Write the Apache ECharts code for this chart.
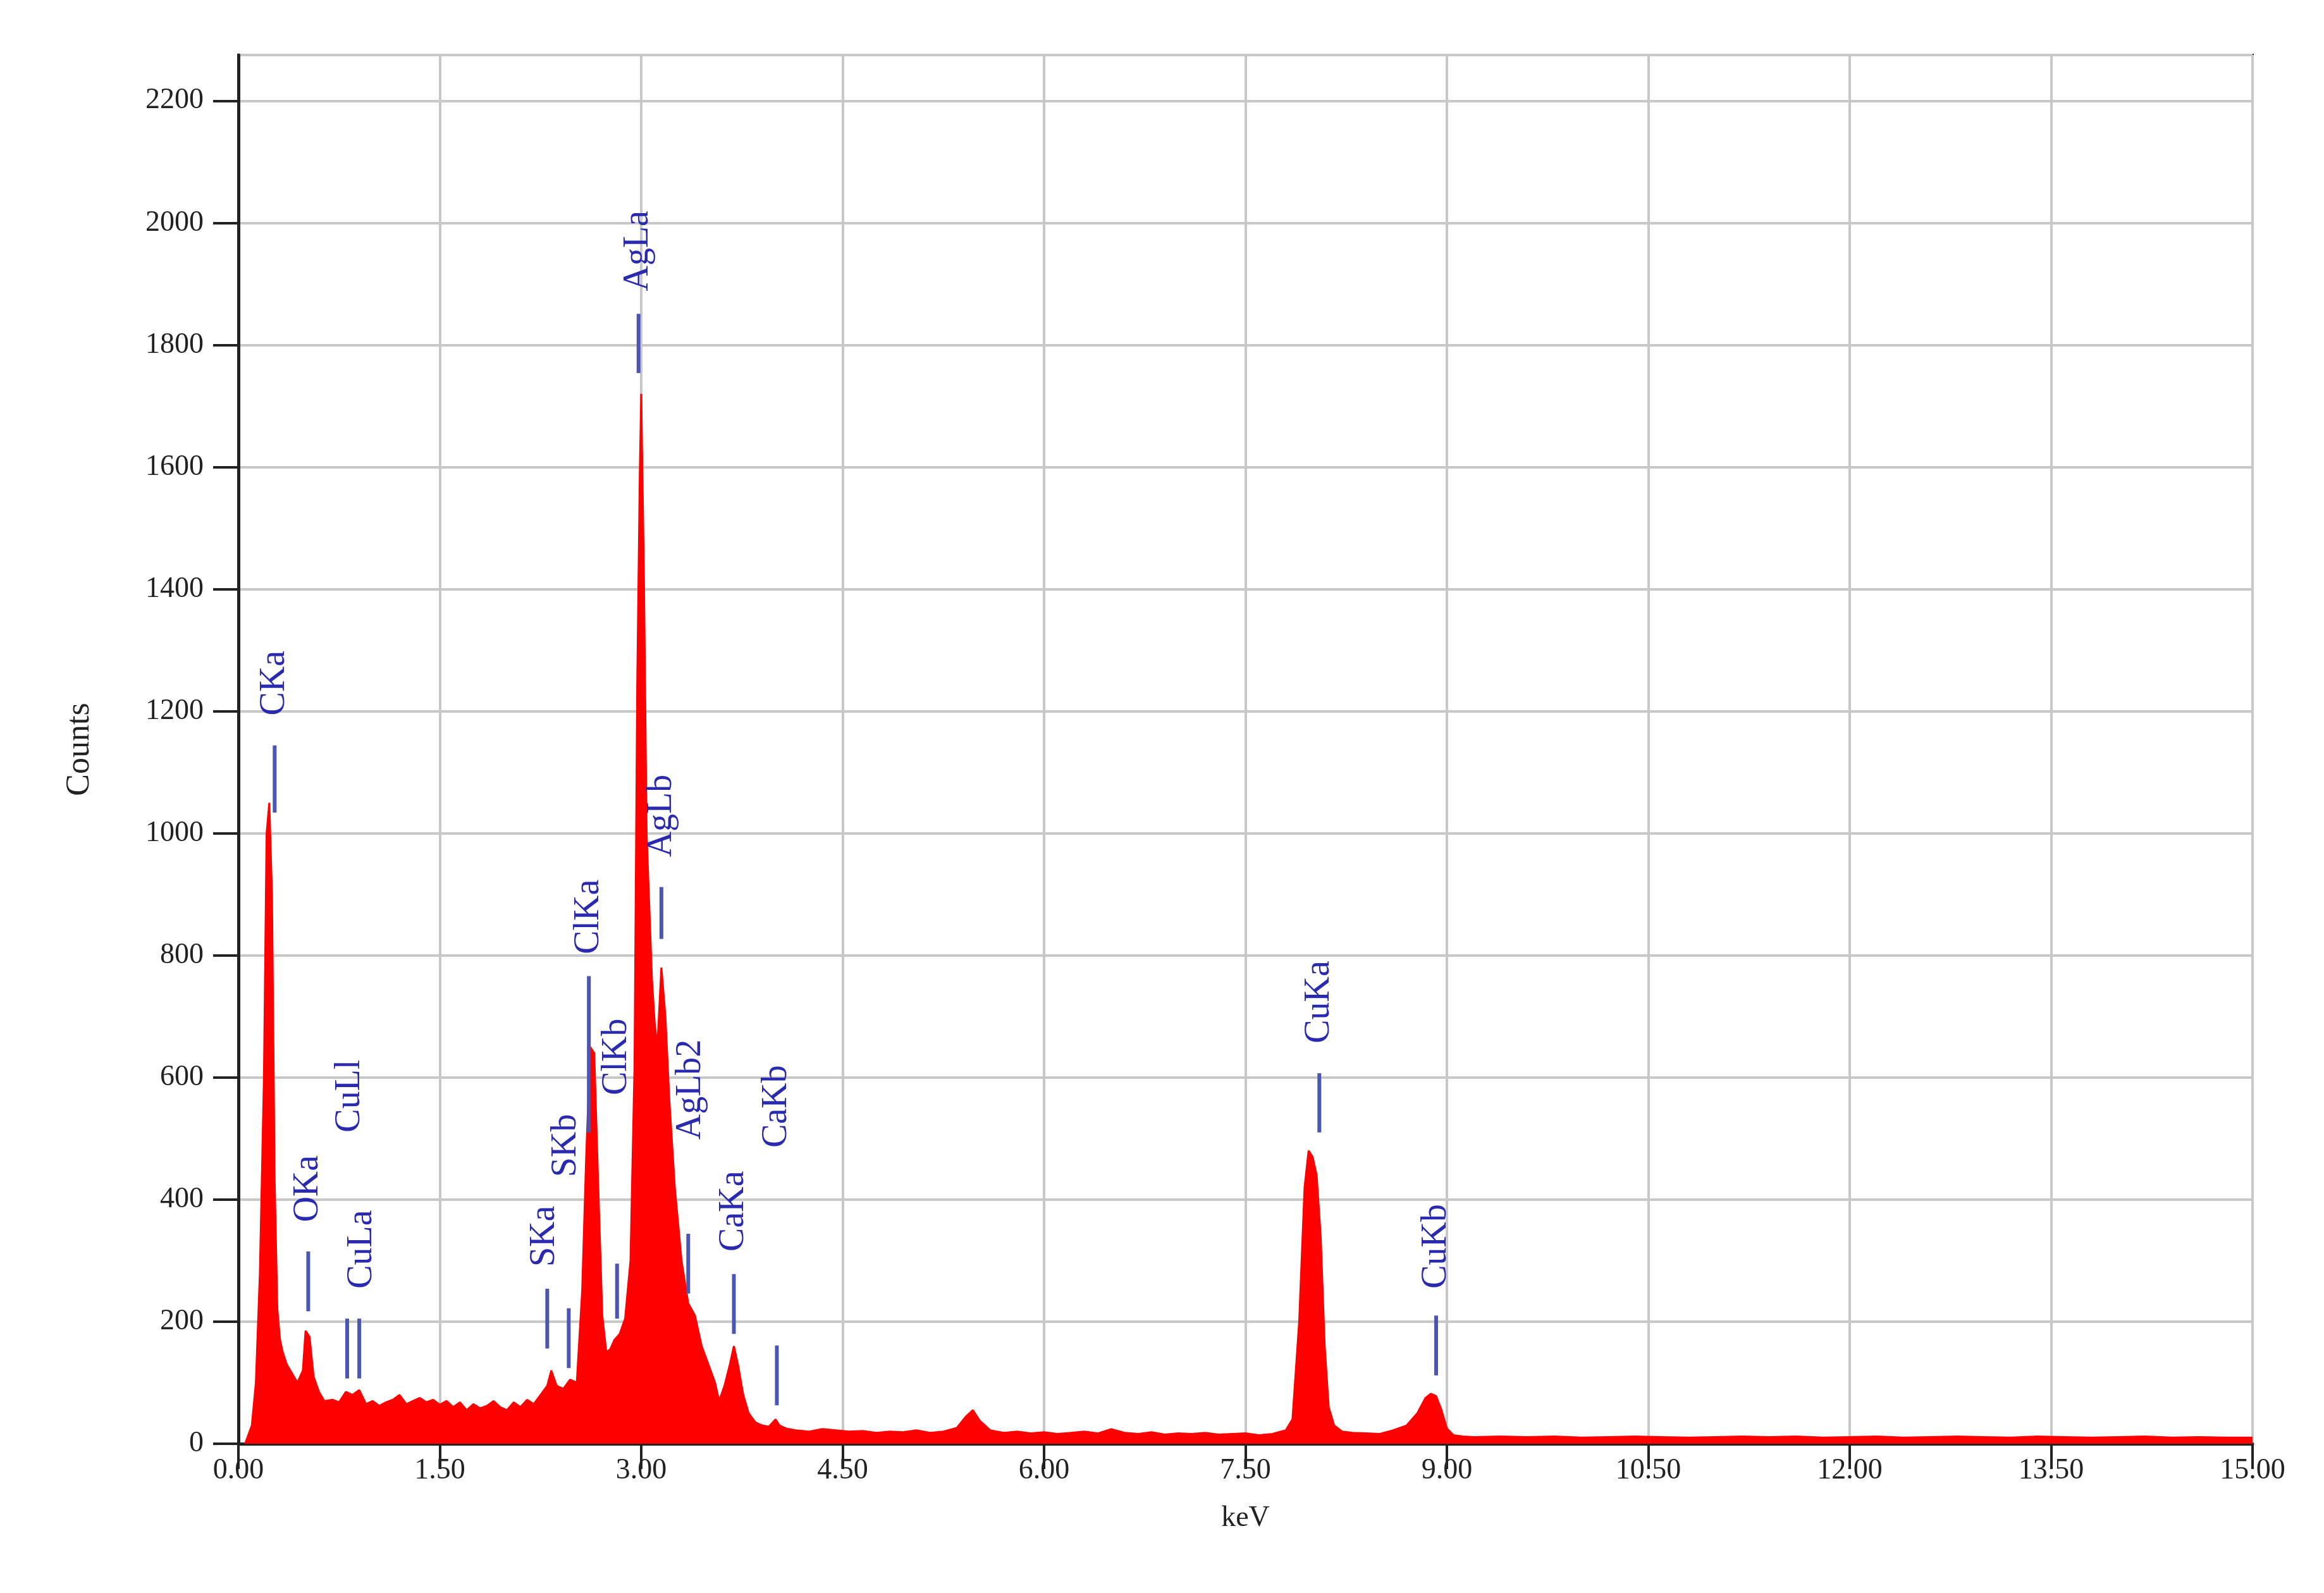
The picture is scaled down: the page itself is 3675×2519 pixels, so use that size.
<!DOCTYPE html>
<html><head><meta charset="utf-8">
<script src="https://cdn.jsdelivr.net/npm/echarts@6/dist/echarts.min.js"></script>
<style>html,body{margin:0;padding:0;background:#fff}#c{width:3675px;height:2519px}</style>
</head><body><div id="c"></div>
<script>
const spectrum = [
[0.05,0],[0.1,30],[0.13,100],[0.16,280],[0.19,600],[0.21,1000],[0.23,1050],[0.25,900],[0.27,430],[0.29,220],
[0.31,170],[0.33,150],[0.36,130],[0.4,115],[0.44,100],[0.48,120],[0.5,185],[0.53,175],[0.56,110],[0.6,85],
[0.64,70],[0.7,72],[0.75,68],[0.8,85],[0.85,80],[0.9,88],[0.95,65],[1.0,70],[1.05,62],[1.1,68],
[1.15,72],[1.2,80],[1.25,65],[1.3,70],[1.35,75],[1.4,68],[1.45,72],[1.5,64],[1.55,70],[1.6,60],
[1.65,68],[1.7,55],[1.75,65],[1.8,58],[1.85,62],[1.9,70],[1.95,60],[2.0,55],[2.05,68],[2.1,60],
[2.15,72],[2.2,65],[2.25,80],[2.3,95],[2.33,120],[2.37,95],[2.42,90],[2.47,105],[2.52,100],[2.56,250],
[2.59,470],[2.62,650],[2.65,640],[2.68,420],[2.71,210],[2.74,150],[2.77,155],[2.8,170],[2.84,180],[2.88,205],
[2.92,300],[2.95,620],[2.97,1240],[2.99,1600],[3.0,1720],[3.02,1420],[3.04,1000],[3.06,880],[3.08,760],[3.1,690],
[3.12,650],[3.15,780],[3.18,700],[3.21,560],[3.25,420],[3.3,300],[3.35,230],[3.4,210],[3.45,160],[3.5,130],
[3.55,100],[3.58,70],[3.62,95],[3.66,130],[3.69,160],[3.72,130],[3.76,80],[3.8,50],[3.85,35],[3.9,30],
[3.95,28],[4.0,40],[4.03,30],[4.08,25],[4.15,22],[4.25,20],[4.35,24],[4.45,22],[4.55,20],[4.65,21],
[4.75,18],[4.85,20],[4.95,19],[5.05,22],[5.15,18],[5.25,20],[5.35,26],[5.42,45],[5.47,55],[5.52,38],
[5.6,22],[5.7,18],[5.8,20],[5.9,17],[6.0,19],[6.1,16],[6.2,18],[6.3,20],[6.4,17],[6.5,24],
[6.6,18],[6.7,16],[6.8,19],[6.9,15],[7.0,17],[7.1,16],[7.2,18],[7.3,15],[7.4,16],[7.5,17],
[7.6,14],[7.7,16],[7.8,22],[7.85,40],[7.9,200],[7.94,420],[7.97,480],[8.0,470],[8.03,440],[8.06,340],
[8.09,160],[8.12,60],[8.16,30],[8.22,20],[8.3,18],[8.4,17],[8.5,16],[8.6,22],[8.7,30],[8.78,50],
[8.84,75],[8.88,82],[8.92,78],[8.96,55],[9.0,25],[9.05,14],[9.12,12],[9.2,11],[9.4,12],[9.6,11],
[9.8,12],[10.0,10],[10.2,11],[10.4,12],[10.6,11],[10.8,10],[11.0,11],[11.2,12],[11.4,11],[11.6,12],
[11.8,10],[12.0,11],[12.2,12],[12.4,10],[12.6,11],[12.8,12],[13.0,11],[13.2,10],[13.4,12],[13.6,11],
[13.8,10],[14.0,11],[14.2,12],[14.4,10],[14.6,11],[14.8,10],[15.0,10]];
const labels = ["CKa","OKa","CuLl","CuLa","SKa","SKb","ClKa","ClKb","AgLa","AgLb","AgLb2","CaKa","CaKb","CuKa","CuKb"];
const labelEnergy = [0.27,0.52,0.81,0.90,2.30,2.46,2.61,2.82,2.98,3.15,3.35,3.69,4.01,8.05,8.92];
const lineBottom = [1034,217,107,107,156,124,510,205,1754,827,246,180,63,510,112];
const lineTop = [1144,315,205,205,254,222,766,295,1851,912,344,278,161,607,210];
const textEnergy = [0.27,0.52,0.83,0.92,2.28,2.44,2.61,2.82,2.98,3.15,3.37,3.69,4.01,8.05,8.92];
const textBase = [1193,363,510,254,290,437,802,571,1888,961,498,315,485,656,254];

const ann = labels.map((n,i)=>[labelEnergy[i],lineBottom[i],lineTop[i],textEnergy[i],textBase[i],n]);
const font = 'Liberation Serif';
const chart = echarts.init(document.getElementById('c'));
chart.setOption({
  animation:false,
  grid:{left:377,right:113,top:87,bottom:236,show:true,borderColor:'#333',borderWidth:4},
  xAxis:{type:'value',min:0,max:15,interval:1.5,name:'keV',nameLocation:'middle',nameGap:95,
    nameTextStyle:{fontFamily:font,fontSize:46,color:'#222'},
    axisLine:{lineStyle:{color:'#222',width:5}},axisTick:{length:40,lineStyle:{color:'#222',width:4}},
    axisLabel:{formatter:v=>v.toFixed(2),fontFamily:font,fontSize:46,color:'#222',margin:20},
    splitLine:{lineStyle:{color:'#c8c8c8',width:4}}},
  yAxis:{type:'value',min:0,max:2275,interval:200,name:'Counts',nameLocation:'middle',nameGap:225,
    nameTextStyle:{fontFamily:font,fontSize:52,color:'#222'},
    axisLine:{lineStyle:{color:'#222',width:5}},axisTick:{length:40,lineStyle:{color:'#222',width:4}},
    axisLabel:{showMaxLabel:false,formatter:v=>String(v),fontFamily:font,fontSize:46,color:'#222',margin:55},
    splitLine:{lineStyle:{color:'#c8c8c8',width:4}}},
  series:[
    {type:'line',data:spectrum,symbol:'none',lineStyle:{color:'#ff0000',width:3},
     areaStyle:{color:'#ff0000',opacity:1},z:2},
    {type:'custom',data:ann,z:5,renderItem:(params,api)=>{
      const p1=api.coord([api.value(0),api.value(1)]);
      const p2=api.coord([api.value(0),api.value(2)]);
      const t=api.coord([api.value(3),api.value(4)]);
      return {type:'group',children:[
        {type:'line',shape:{x1:p1[0],y1:p1[1],x2:p2[0],y2:p2[1]},style:{stroke:'#4a56b0',lineWidth:6}},
        {type:'text',x:t[0],y:t[1],rotation:Math.PI/2,
         style:{text:labels[params.dataIndex],fontFamily:font,fontSize:56,fill:'#2a2ab0',align:'left',verticalAlign:'middle'}}
      ]};
    }}
  ]
});
</script></body></html>
